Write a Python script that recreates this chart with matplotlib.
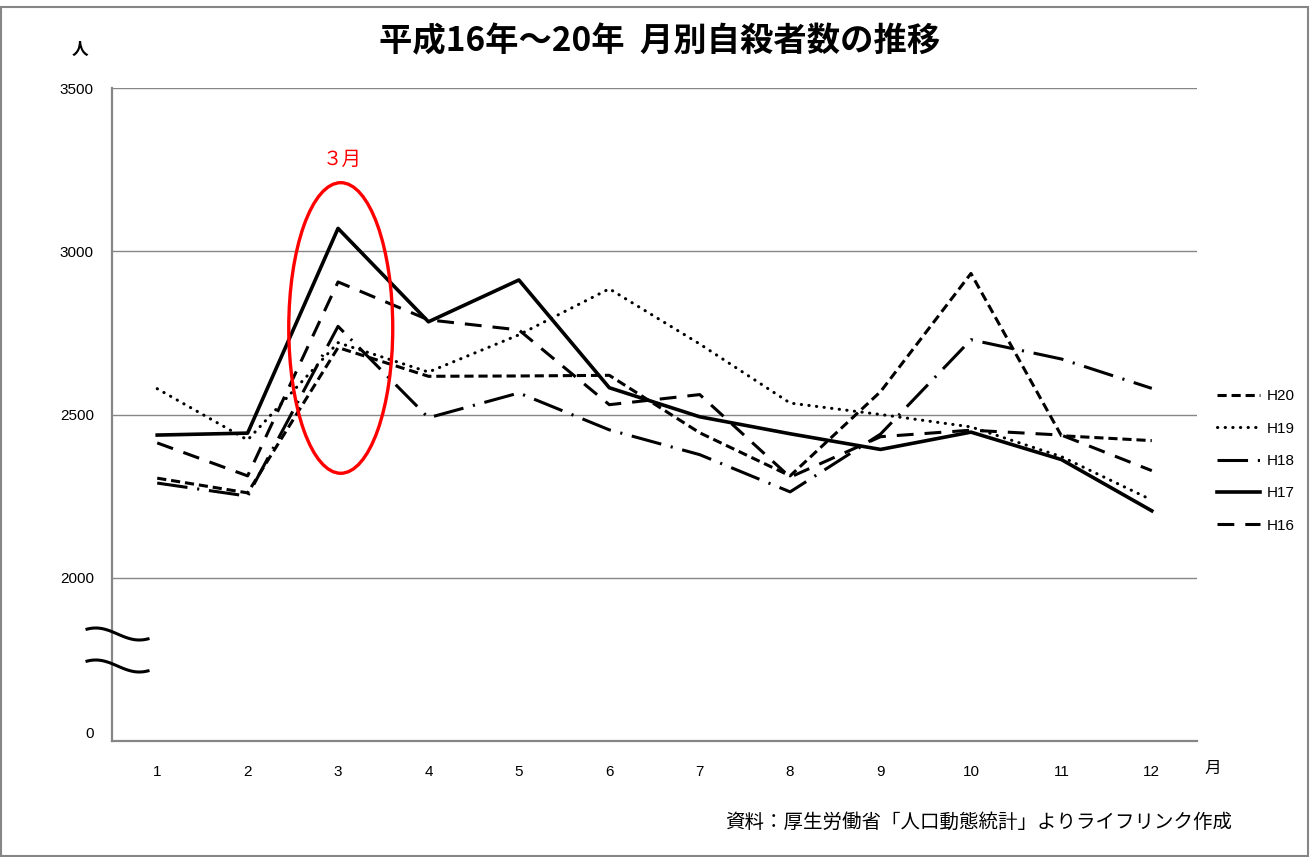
import matplotlib
matplotlib.use("Agg")
import matplotlib.pyplot as plt
import matplotlib.transforms as mtransforms
from matplotlib.patches import Ellipse, Rectangle
import numpy as np

plt.rcParams["font.family"] = ["Liberation Sans", "Noto Sans CJK JP", "DejaVu Sans"]

# ==== data
months = [1, 2, 3, 4, 5, 6, 7, 8, 9, 10, 11, 12]
h20 = [2305, 2260, 2705, 2617, 2618, 2620, 2444, 2312, 2570, 2932, 2435, 2420]
h19 = [2579, 2422, 2720, 2630, 2744, 2885, 2716, 2535, 2500, 2462, 2371, 2238]
h18 = [2290, 2250, 2770, 2490, 2566, 2453, 2377, 2263, 2440, 2729, 2670, 2580]
h17 = [2437, 2443, 3070, 2784, 2912, 2582, 2493, 2441, 2393, 2446, 2362, 2205]
h16 = [2413, 2312, 2906, 2790, 2759, 2530, 2561, 2308, 2432, 2452, 2437, 2328]
y_ticks = [0, 2000, 2500, 3000, 3500]

title = "平成16年～20年  月別自殺者数の推移"
source = "資料：厚生労働省「人口動態統計」よりライフリンク作成"

grey = "#868686"


# broken axis: 0..2000 squeezed into the space of 500
def fwd(v):
    v = np.asarray(v, dtype=float)
    return np.where(v >= 2000, v, 1500 + v / 4)


def inv(u):
    u = np.asarray(u, dtype=float)
    return np.where(u >= 2000, u, (u - 1500) * 4)


fig = plt.figure(figsize=(13.15, 8.57), dpi=100)
ax = fig.add_axes([112 / 1315, 1 - 741 / 857, (1197 - 112) / 1315, (741 - 88) / 857])
ax.set_yscale("function", functions=(fwd, inv))

lw = 2.2
ax.plot(months, h20, color="black", lw=lw, dashes=(3.0, 1.6), label="H20")
ax.plot(months, h19, color="black", lw=lw, dashes=(0.1, 2.4), dash_capstyle="round", label="H19")
ax.plot(months, h18, color="black", lw=lw, dashes=(10, 3.2, 0.7, 3.2), label="H18")
ax.plot(months, h17, color="black", lw=2.6, label="H17")
ax.plot(months, h16, color="black", lw=lw, dashes=(5.5, 3.6), label="H16")

# red ellipse around March
ax.add_patch(Ellipse((3.03, 2765), width=1.15, height=890, fill=False,
                     edgecolor="red", lw=2.4, zorder=5))
ax.text(3.05, 3280, "３月", color="red", fontsize=14, ha="center", va="center",
        family=["Noto Sans CJK JP"])

ax.set_xlim(0.5, 12.5)
ax.set_ylim(0, 3500)
ax.set_xticks(months)
ax.set_yticks(y_ticks)
ax.set_yticklabels([str(t) for t in y_ticks])
ax.tick_params(length=0, labelsize=11)
ax.tick_params(axis="y", pad=13)
ax.tick_params(axis="x", pad=17)
# the "0" label sits a little above the axis line
lab0 = ax.get_yticklabels()[0]
lab0.set_transform(lab0.get_transform() + mtransforms.ScaledTranslation(0, 8 / 100, fig.dpi_scale_trans))

ax.grid(axis="y", color=grey, lw=1)
ax.set_axisbelow(True)
for side in ["top", "right"]:
    ax.spines[side].set_visible(False)
for side in ["left", "bottom"]:
    ax.spines[side].set_color(grey)
    ax.spines[side].set_linewidth(1.6)

# break marks on the y axis
t = np.linspace(0, 1, 60)
for yc in [634, 666]:
    xs = (87 + 61 * t) / 1315
    ys = 1 - (yc - 6 * np.cos(np.pi * (1.4 * t - 0.2))) / 857
    fig.add_artist(plt.Line2D(xs, ys, color="black", lw=2.2, transform=fig.transFigure))

leg = ax.legend(loc="center left", bbox_to_anchor=(1203 / 1315, 1 - 461 / 857),
                bbox_transform=fig.transFigure, frameon=False, fontsize=11,
                handlelength=2.8, labelspacing=1.2, handletextpad=0.5)

fig.text(660 / 1315, 1 - 42 / 857, title, fontsize=24, fontweight="bold",
         ha="center", va="center", family=["Noto Sans CJK JP"])
fig.text(80 / 1315, 1 - 50 / 857, "人", fontsize=12, fontweight="bold",
         ha="center", va="center", family=["Noto Sans CJK JP"])
fig.text(1213 / 1315, 1 - 768 / 857, "月", fontsize=12,
         ha="center", va="center", family=["Noto Sans CJK JP"])
fig.text(979 / 1315, 1 - 822 / 857, source, fontsize=14,
         ha="center", va="center", family=["Noto Sans CJK JP"])

# chart border
fig.add_artist(Rectangle((1 / 1315, 1 / 857), 1307 / 1315, 1 - 8 / 857, fill=False,
                         edgecolor=grey, lw=1.5, transform=fig.transFigure))

fig.savefig("out.png", dpi=100)
